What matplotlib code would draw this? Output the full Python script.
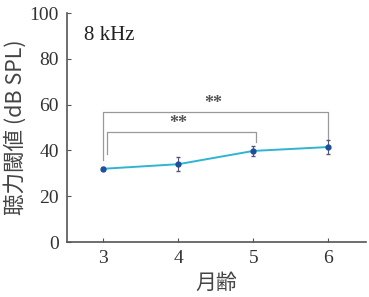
import matplotlib
matplotlib.use("Agg")
import matplotlib.pyplot as plt

months = [3, 4, 5, 6]
threshold = [32.0, 34.0, 39.8, 41.5]
errors = [0.6, 3.0, 2.2, 3.0]
xticks = [3, 4, 5, 6]
yticks = [0, 20, 40, 60, 80, 100]
brackets = [  # (x1, x2, y_top, y_left_end, y_right_end)
    (3.0, 6.0, 56.6, 36.0, 44.5),
    (3.05, 5.03, 47.9, 38.5, 43.8),
]
stars = [(4.47, 57.0), (4.0, 48.2)]

serif = ["Liberation Serif", "DejaVu Serif"]
cjk = ["Noto Sans CJK JP", "DejaVu Sans"]

fig = plt.figure(figsize=(3.69, 2.97), dpi=100)
ax = fig.add_axes([0.182, 0.185, 0.81, 0.771])

gray = "#999999"
for (x1, x2, yt, yl, yr) in brackets:
    ax.plot([x1, x1, x2, x2], [yl, yt, yt, yr], color=gray, lw=0.9)
for (sx, sy) in stars:
    ax.text(sx, sy, "**", ha="center", va="bottom", fontsize=13,
            color="#555555", family=serif, fontweight="bold")

ax.plot(months, threshold, color="#2fb4d4", lw=1.4, zorder=3)
ax.errorbar(months, threshold, yerr=errors, fmt="o", ms=3.5,
            color="#1f4e9c", ecolor="#555577", elinewidth=0.8,
            capsize=1.5, zorder=4)

ax.set_xlim(2.52, 6.5)
ax.set_ylim(0, 100)
ax.set_xticks(xticks)
ax.set_yticks(yticks)
ax.set_xticklabels([str(t) for t in xticks], family=serif, fontsize=14, color="#333333")
ax.set_yticklabels([str(t) for t in yticks], family=serif, fontsize=14, color="#333333")
ax.tick_params(direction="in", length=3, color="#555555", pad=6)

for s in ["top", "right"]:
    ax.spines[s].set_visible(False)
for s in ["left", "bottom"]:
    ax.spines[s].set_color("#555555")
    ax.spines[s].set_linewidth(1.2)

ax.text(2.74, 90, "8 kHz", family=serif, fontsize=15, va="center", ha="left", color="#222222")

ax.set_ylabel("聴力閾値 (dB SPL)", family=cjk, fontsize=15.5, color="#444444", labelpad=2)
ax.set_xlabel("月齢", family=cjk, fontsize=15, color="#444444", labelpad=3)

fig.savefig("out.png", dpi=100)
